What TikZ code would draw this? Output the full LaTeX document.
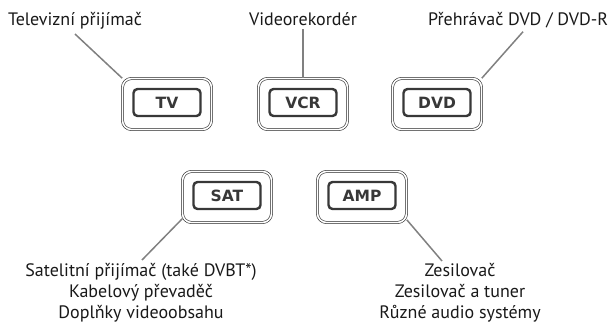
\documentclass[tikz,border=0pt]{standalone}
\usepackage{fontspec}
\setmainfont{PT Sans}
\newfontfamily\keyfont{DejaVu Sans}
\usepackage{xcolor}
\usepackage{tikz}
\usetikzlibrary{positioning}
\definecolor{keygray}{HTML}{383838}
\definecolor{leadgray}{HTML}{808080}
\tikzset{
  keyframe/.style={draw=black!85, double=white, double distance=1.6pt,
    line width=0.6pt, rounded corners=9pt, minimum width=89pt, minimum height=51pt},
  keycap/.style={draw=keygray, line width=2.4pt, rounded corners=4pt, fill=white,
    minimum width=67pt, minimum height=27pt, font=\keyfont\bfseries\fontsize{15.5}{17}\selectfont,
    text=keygray},
  devlabel/.style={align=center, font=\fontsize{18}{21}\selectfont, text=black!90, inner sep=0pt},
  leader/.style={draw=leadgray, line width=1.5pt}
}

\begin{document}
\begin{tikzpicture}[x=1pt, y=-1pt]
  \useasboundingbox (0,0) rectangle (612,324);

  % keys
  \node[keyframe] (tvframe) at (167,104) {};
  \node[keycap] (tv) at (167,102.5) {TV};
  \node[keyframe] (vcrframe) at (303,104) {};
  \node[keycap] (vcr) at (303,102.5) {VCR};
  \node[keyframe] (dvdframe) at (437,104) {};
  \node[keycap] (dvd) at (437,102.5) {DVD};
  \node[keyframe] (satframe) at (227,197) {};
  \node[keycap] (sat) at (227,195.5) {SAT};
  \node[keyframe] (ampframe) at (362,197) {};
  \node[keycap] (amp) at (362,195.5) {AMP};

  % labels
  \node[devlabel, anchor=base] (tvlabel) at (75,25) {Televizní přijímač};
  \node[devlabel, anchor=base] (vcrlabel) at (303,25) {Videorekordér};
  \node[devlabel, anchor=base] (dvdlabel) at (518,25) {Přehrávač DVD / DVD-R};
  \node[devlabel, anchor=north] (satlabel) at (141,263) {Satelitní přijímač (také DVBT*)\\Kabelový převaděč\\Doplňky videoobsahu};
  \node[devlabel, anchor=north] (amplabel) at (460,263) {Zesilovač\\Zesilovač a tuner\\Různé audio systémy};

  \draw[leader] ([yshift=-5pt]tvlabel.south) -- (tvframe.north west);
  \draw[leader] ([yshift=-4pt]vcrlabel.south) -- (vcrframe.north);
  \draw[leader] ([xshift=5pt,yshift=-4pt]dvdlabel.south) -- (dvdframe.north east);
  \draw[leader] ([yshift=4pt]satframe.south west) -- ([xshift=1pt,yshift=3pt]satlabel.north);
  \draw[leader] ([yshift=3pt]ampframe.south east) -- ([xshift=-18pt,yshift=2pt]amplabel.north);
\end{tikzpicture}
\end{document}
